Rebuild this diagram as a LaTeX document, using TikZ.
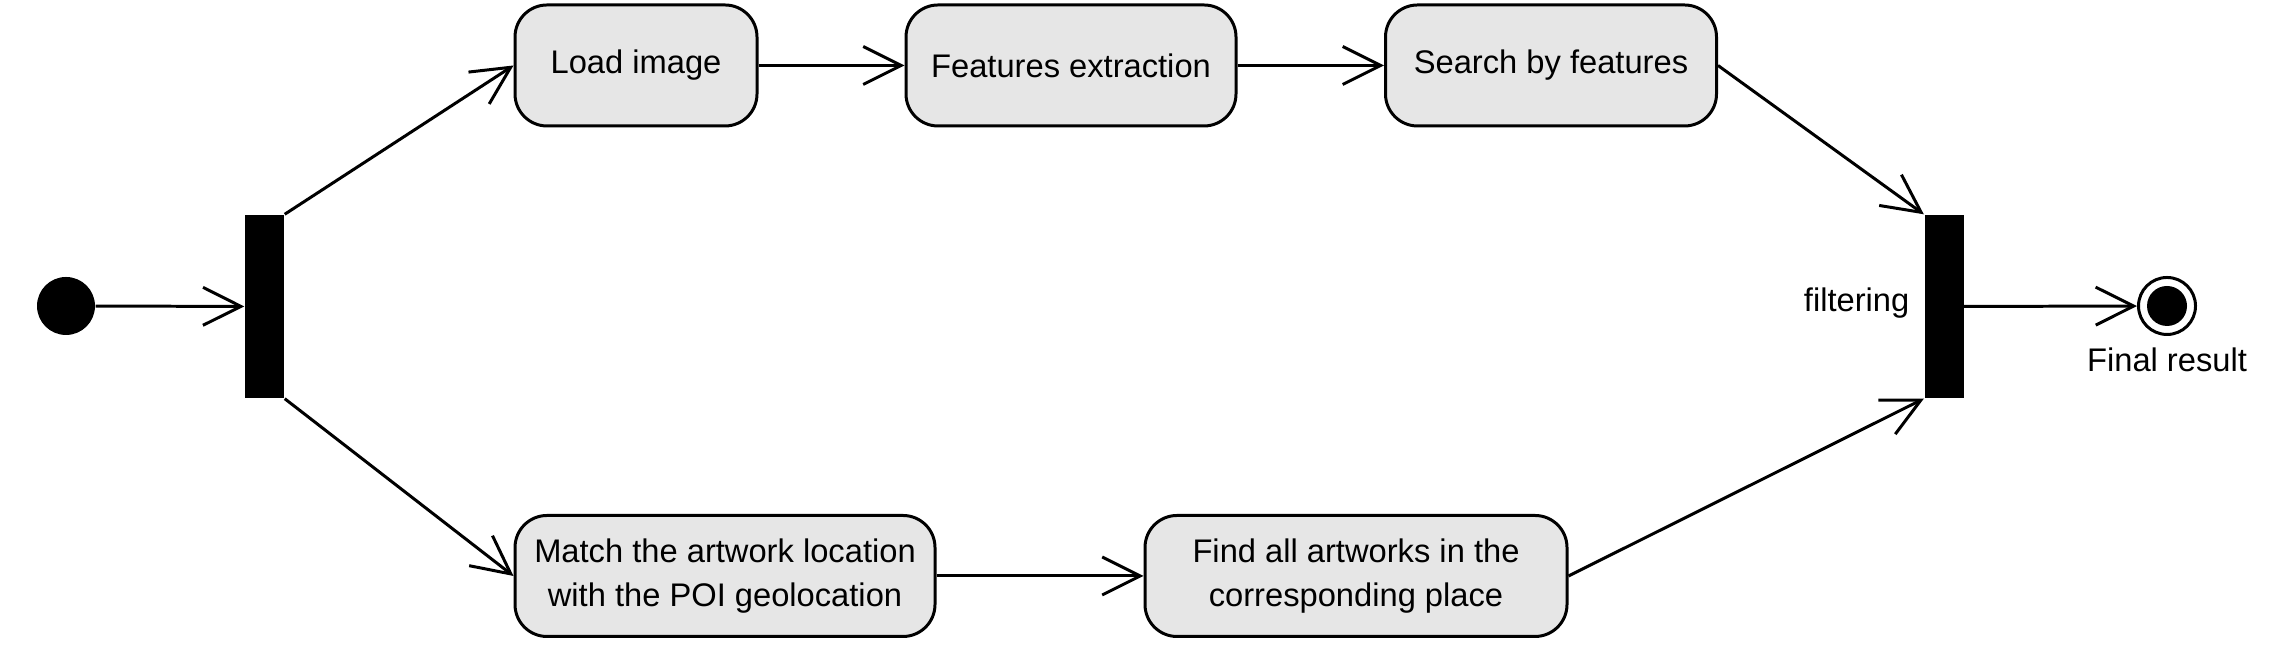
\documentclass[tikz,border=0pt]{standalone}
\usepackage{fontspec}
\setmainfont{Liberation Sans}
\usetikzlibrary{arrows.meta,positioning}
\definecolor{actfill}{RGB}{230,230,230}
\tikzset{
  action/.style={rectangle,rounded corners=3.2mm,fill=actfill,draw=black,
    line width=0.85pt,minimum height=1.21cm,align=center,inner sep=0pt,
    font=\fontsize{9.3}{12.5}\selectfont},
  bar/.style={rectangle,fill=black,draw=none,minimum width=0.39cm,
    minimum height=1.83cm,inner sep=0pt},
  startnode/.style={circle,fill=black,minimum size=0.58cm,inner sep=0pt},
  endnode/.style={circle,draw=black,line width=0.85pt,fill=white,
    minimum size=0.57cm,inner sep=0pt},
  lab/.style={font=\fontsize{9.3}{12.5}\selectfont,inner sep=0pt},
  flow/.style={-{Straight Barb[length=3.8mm,width=3.8mm]},line width=0.85pt}
}

\begin{document}
\begin{tikzpicture}
\useasboundingbox (0,0) rectangle (22.89,6.48);
% ---------- start and fork ----------
\node[startnode] (start) at (0.66,3.42) {};
\node[bar] (fork) at (2.645,3.415) {};
% ---------- upper branch ----------
\node[action,minimum width=2.42cm] (load) at (6.36,5.825) {Load image};
\node[action,minimum width=3.30cm] (feat) at (10.71,5.825) {Features extraction};
\node[action,minimum width=3.31cm] (search) at (15.51,5.825) {Search by features};
% ---------- lower branch ----------
\node[action,minimum width=4.20cm] (match) at (7.25,0.72) {Match the artwork location\\with the POI geolocation};
\node[action,minimum width=4.22cm] (find) at (13.56,0.72) {Find all artworks in the\\corresponding place};
% ---------- join and end ----------
\node[bar] (join) at (19.44,3.415) {};
\node[lab,anchor=east] (filt) at (19.10,3.45) {filtering};
\node[endnode] (final) at (21.67,3.42) {};
\fill (final.center) circle (0.2);
\node[lab] (finlab) at (21.67,2.88) {Final result};
% ---------- arrows ----------
\draw[flow] (start) -- (fork);
\draw[flow] (fork.north east) -- (load.west);
\draw[flow] (load) -- (feat);
\draw[flow] (feat) -- (search);
\draw[flow] (fork.south east) -- (match.west);
\draw[flow] (match) -- (find);
\draw[flow] (search.east) -- (join.north west);
\draw[flow] (find.east) -- (join.south west);
\draw[flow] (join) -- (final);
\end{tikzpicture}
\end{document}
